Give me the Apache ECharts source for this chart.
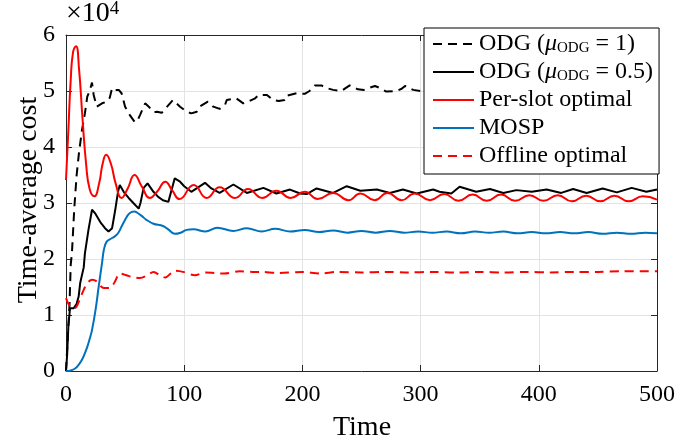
<!DOCTYPE html>
<html>
<head>
<meta charset="utf-8">
<script src="https://cdn.jsdelivr.net/npm/echarts@6/dist/echarts.min.js"></script>
<style>
html,body{margin:0;padding:0;background:#fff;}
#chart{width:680px;height:447px;}
</style>
</head>
<body>
<div id="chart"></div>
<script>
// Values in units of 10^4
const odg1T = [0,1.5,3,4,5,7,9,11,13.5,16,18,20,22,23.4,26,30.5,34.7,37,39,41.5,44.6,47,50,54,58,60,62.6,67,70,74,77,81,88,90.5,96.5,102,106,110.6,113,120,124.6,130,134.5,136,144,150,155,160,163,170,175,180,185,186,195,202,206,210.6,216,221,226,233,240,247,252,255.5,261.4,266,271,279.6,284,286.8,293.8,300,310,320,335,350,365,380,395,410,425,440,455,470,485,500];
const odg1V = [0,0.6,1.2,1.9,2.1,2.9,3.5,3.9,4.3,4.6,4.9,5.0,5.15,4.93,4.72,4.78,4.81,4.88,5.05,5.02,5.02,4.96,4.72,4.57,4.45,4.45,4.57,4.78,4.72,4.62,4.63,4.61,4.78,4.84,4.72,4.63,4.6,4.63,4.72,4.81,4.72,4.68,4.75,4.84,4.87,4.78,4.82,4.87,4.93,4.93,4.84,4.82,4.84,4.91,4.96,4.95,5.0,5.1,5.1,5.05,5.02,5.0,5.1,5.03,5.02,5.05,5.09,5.05,4.99,5.0,5.04,5.09,5.02,5.0,5.05,5.08,5.02,5.08,5.03,5.1,5.05,5.1,5.05,5.1,5.06,5.1,5.06,5.1];

const odg05T = [0,1,2,3.4,6.5,9,10.7,12,15,16,19,22,24.5,29,33,36,39,41.6,44,45.5,48.8,53,57,61.5,63,65.7,69,74,78,82,86.6,92,96.5,100,106,117.6,123,130,141.6,153,167,178,189.5,198,203.6,212,226,237.5,249,263,274,285,296.7,310.6,316,326,333,347,358.7,370,381,394,406.6,419,429,440.5,454,466,478.6,491,500];
const odg05V = [0,0.3,0.8,1.12,1.12,1.2,1.33,1.57,1.85,2.1,2.52,2.88,2.82,2.66,2.55,2.49,2.55,2.87,3.2,3.32,3.2,3.09,3.0,2.9,3.0,3.27,3.35,3.2,3.11,3.05,3.02,3.44,3.38,3.3,3.2,3.36,3.26,3.18,3.33,3.18,3.27,3.17,3.24,3.17,3.16,3.26,3.18,3.3,3.22,3.24,3.18,3.24,3.17,3.24,3.2,3.17,3.29,3.2,3.25,3.18,3.23,3.2,3.24,3.18,3.25,3.18,3.26,3.19,3.27,3.2,3.24];

const perSlotT = [0,2,4,6,8.5,11,14,17,20,24,28,31,34,38,42,47,52,58,64,71,77,84,90,96,108,119,130,143,154,166,178,190,202,213,226,239,249,261,272,284,295,308,320,332,344,356,368,380,392,404,416,428,440,452,464,476,488,500];
const perSlotV = [3.41,4.3,5.2,5.7,5.8,5.4,4.5,3.7,3.25,3.12,3.35,3.7,3.86,3.7,3.35,3.09,3.25,3.5,3.3,3.09,3.2,3.38,3.22,3.07,3.32,3.09,3.28,3.09,3.25,3.09,3.22,3.09,3.2,3.07,3.18,3.05,3.17,3.05,3.18,3.05,3.17,3.05,3.16,3.04,3.15,3.04,3.15,3.04,3.14,3.04,3.14,3.03,3.13,3.03,3.13,3.03,3.12,3.06];

const mospT = [0,4,8,11,13.5,16,18,20,22,25,27.6,30.5,32,34.4,38.6,41,44,47,50,53,55.6,58,60,64,68,74,82,87,92,97,102,108,118,128,141.5,153,165.6,177,189.5,202,214,226,238,250,262,274,286,298,310,322,334,346,358,370,382,394,406,418,430,442,454,466,478,490,500];
const mospV = [0,0.01,0.05,0.12,0.2,0.32,0.43,0.57,0.73,1.09,1.5,1.93,2.16,2.31,2.37,2.4,2.46,2.58,2.7,2.8,2.84,2.85,2.83,2.77,2.7,2.63,2.59,2.52,2.45,2.47,2.52,2.53,2.49,2.56,2.5,2.55,2.49,2.54,2.49,2.52,2.48,2.51,2.47,2.5,2.47,2.5,2.47,2.49,2.47,2.49,2.46,2.49,2.47,2.49,2.46,2.48,2.46,2.48,2.46,2.48,2.45,2.47,2.45,2.47,2.46];

const offlineT = [0,2,5,7,9,12,15,18,22,26,29,32,37,41,45.7,51,56,62.6,68,74,80,84,92,99,109,118,126,134,147,158,164,180,200,215,230,250,270,290,310,330,350,370,390,410,430,450,470,500];
const offlineV = [1.3,1.2,1.12,1.12,1.15,1.3,1.45,1.57,1.63,1.6,1.52,1.48,1.48,1.58,1.74,1.71,1.68,1.66,1.7,1.77,1.7,1.67,1.79,1.77,1.71,1.76,1.75,1.74,1.78,1.77,1.77,1.75,1.77,1.74,1.77,1.76,1.77,1.76,1.77,1.76,1.77,1.76,1.77,1.76,1.77,1.77,1.78,1.78];

const xTicks = [0,100,200,300,400,500];
const yTicks = [0,1,2,3,4,5,6];

const names = ['odg1','odg05','perslot','mosp','offline'];
const legendText = {
  odg1: 'ODG ({mu|μ}{sub|ODG} = 1)',
  odg05: 'ODG ({mu|μ}{sub|ODG} = 0.5)',
  perslot: 'Per-slot optimal',
  mosp: 'MOSP',
  offline: 'Offline optimal'
};

function zip(t, v){ return t.map((x,i)=>[x, v[i]]); }

const serif = 'Liberation Serif';
const axisCol = '#262626';

const chart = echarts.init(document.getElementById('chart'), null, {renderer:'canvas'});

function lineSeries(name, t, v, color, dashed, smooth){
  return {
    name: name, type: 'line', data: zip(t, v), showSymbol: false, symbol: 'none',
    smooth: smooth, xAxisIndex: 0, yAxisIndex: 0,
    lineStyle: {color: color, width: 2, type: dashed ? [9,6] : 'solid'},
    itemStyle: {color: color}, z: 2, animation: false
  };
}

const option = {
  animation: false,
  backgroundColor: '#fff',
  textStyle: {fontFamily: serif},
  grid: {left: 66, right: 23, top: 35, bottom: 76, show: false},
  xAxis: [{
    type: 'value', min: xTicks[0], max: xTicks[xTicks.length-1], interval: 100, position: 'bottom',
    axisLine: {show: true, onZero: false, lineStyle: {color: axisCol, width: 1}},
    axisTick: {show: true, inside: true, length: 6, lineStyle: {color: axisCol}},
    axisLabel: {color: '#000', fontFamily: serif, fontSize: 24, margin: 12},
    splitLine: {show: true, lineStyle: {color: '#e3e3e3', width: 1}}
  },{
    type: 'value', min: xTicks[0], max: xTicks[xTicks.length-1], interval: 100, position: 'top',
    axisLine: {show: true, onZero: false, lineStyle: {color: axisCol, width: 1}},
    axisTick: {show: true, inside: true, length: 6, lineStyle: {color: axisCol}},
    axisLabel: {show: false}, splitLine: {show: false}
  }],
  yAxis: [{
    type: 'value', min: yTicks[0], max: yTicks[yTicks.length-1], interval: 1, position: 'left',
    axisLine: {show: true, onZero: false, lineStyle: {color: axisCol, width: 1}},
    axisTick: {show: true, inside: true, length: 6, lineStyle: {color: axisCol}},
    axisLabel: {color: '#000', fontFamily: serif, fontSize: 24, margin: 11},
    splitLine: {show: true, lineStyle: {color: '#e3e3e3', width: 1}}
  },{
    type: 'value', min: yTicks[0], max: yTicks[yTicks.length-1], interval: 1, position: 'right',
    axisLine: {show: true, onZero: false, lineStyle: {color: axisCol, width: 1}},
    axisTick: {show: true, inside: true, length: 6, lineStyle: {color: axisCol}},
    axisLabel: {show: false}, splitLine: {show: false}
  }],
  legend: {
    orient: 'vertical', left: 424, top: 28,
    data: names,
    formatter: n => legendText[n],
    backgroundColor: '#fff', borderColor: '#000', borderWidth: 1,
    padding: [4, 6, 6, 8], itemGap: 4, itemWidth: 41, itemHeight: 14,
    itemStyle: {opacity: 0},
    textStyle: {
      fontFamily: serif, fontSize: 24, color: '#000', lineHeight: 23,
      rich: {
        mu: {fontFamily: serif, fontSize: 24, fontStyle: 'italic', color: '#000', lineHeight: 23},
        sub: {fontFamily: serif, fontSize: 15, color: '#000', lineHeight: 9, verticalAlign: 'bottom'}
      }
    },
    z: 10
  },
  graphic: [
    {type: 'text', left: 66, top: 0, style: {text: '×10{sup|4}', fontFamily: serif, fontSize: 28, fill: '#000',
      rich: {sup: {fontFamily: serif, fontSize: 19, verticalAlign: 'top', fill: '#000'}}}},
    {type: 'text', x: 362, y: 428, style: {text: 'Time', fontFamily: serif, fontSize: 28, fill: '#000', align: 'center', verticalAlign: 'middle'}},
    {type: 'text', x: 29, y: 200, rotation: Math.PI/2, style: {text: 'Time-average cost', fontFamily: serif, fontSize: 28, fill: '#000', align: 'center', verticalAlign: 'middle'}}
  ],
  series: [
    lineSeries('odg1', odg1T, odg1V, '#000000', true, false),
    lineSeries('odg05', odg05T, odg05V, '#000000', false, false),
    lineSeries('perslot', perSlotT, perSlotV, '#ff0000', false, 0.5),
    lineSeries('mosp', mospT, mospV, '#0072bd', false, 0.4),
    lineSeries('offline', offlineT, offlineV, '#ff0000', true, 0.3)
  ]
};
chart.setOption(option);
</script>
</body>
</html>
